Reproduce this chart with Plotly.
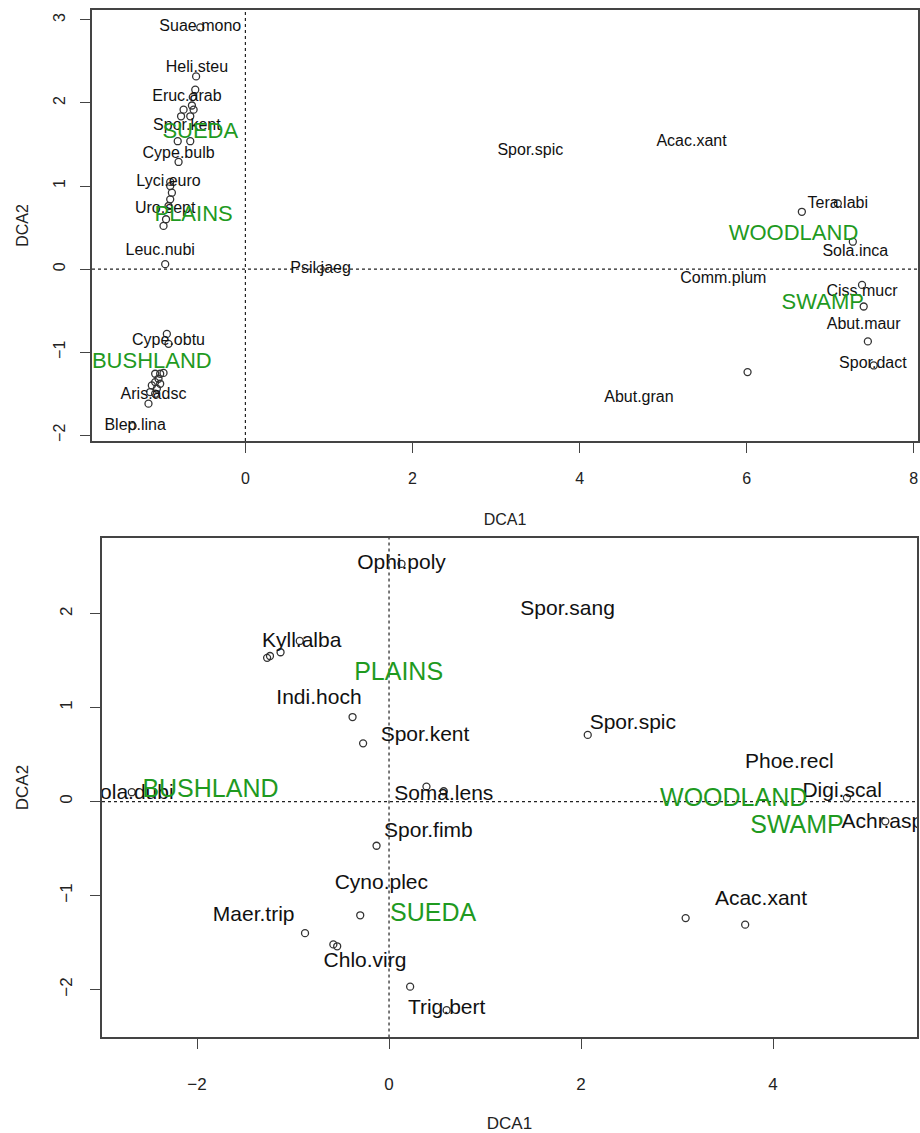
import plotly.graph_objects as go

# ---------------- top panel data ----------------
top_pt_x = [-0.54, -0.59, -0.60, -0.63, -0.64, -0.74, -0.62, -0.77, -0.66, -0.81, -0.66, -0.80,
            -0.90, -0.90, -0.88, -0.90, -0.92, -0.95, -0.98, -0.96, -0.94, -0.92,
            -1.08, -1.02, -0.98, -1.04, -1.08, -1.02, -1.12, -1.06, -1.14, -1.08, -1.16, -1.35,
            0.90, 6.66, 7.09, 7.27, 7.38, 7.40, 7.45, 7.52, 6.01]
top_pt_y = [2.91, 2.32, 2.16, 2.07, 1.97, 1.92, 1.92, 1.84, 1.84, 1.54, 1.54, 1.29,
            1.05, 1.00, 0.92, 0.84, 0.76, 0.60, 0.52, 0.06, -0.78, -0.90,
            -1.26, -1.26, -1.25, -1.32, -1.36, -1.38, -1.40, -1.44, -1.48, -1.50, -1.62, -1.89,
            0.00, 0.69, 0.79, 0.33, -0.19, -0.45, -0.87, -1.16, -1.24]

top_lab = ["Suae.mono", "Heli.steu", "Eruc.arab", "Spor.kent", "Cype.bulb", "Lyci.euro",
           "Uro.sept", "Leuc.nubi", "Cype.obtu", "Aris.adsc", "Blep.lina", "Psil.jaeg",
           "Spor.spic", "Acac.xant", "Tera.labi", "Sola.inca", "Comm.plum", "Ciss.mucr",
           "Abut.maur", "Spor.dact", "Abut.gran"]
top_lab_x = [-0.54, -0.58, -0.70, -0.70, -0.80, -0.92, -0.96, -1.02, -0.92, -1.10, -1.32, 0.90,
             3.41, 5.34, 7.09, 7.30, 5.72, 7.38, 7.40, 7.51, 4.71]
top_lab_y = [2.91, 2.42, 2.07, 1.72, 1.39, 1.05, 0.72, 0.22, -0.87, -1.51, -1.89, 0.00,
             1.42, 1.53, 0.78, 0.21, -0.12, -0.28, -0.67, -1.14, -1.55]

top_grp = ["SUEDA", "PLAINS", "BUSHLAND", "WOODLAND", "SWAMP"]
top_grp_x = [-0.54, -0.62, -1.12, 6.56, 6.91]
top_grp_y = [1.64, 0.64, -1.13, 0.42, -0.42]

top_xticks = [0, 2, 4, 6, 8]
top_yticks = [-2, -1, 0, 1, 2, 3]

# ---------------- bottom panel data ----------------
bot_pt_x = [0.13, -0.93, -1.13, -1.24, -1.27, -0.38, -0.27, -2.68, 0.39, 0.57, -0.13,
            -0.875, -0.30, -0.58, -0.54, 0.22, 0.60, 2.07, 5.17, 3.09, 3.71, 4.77]
bot_pt_y = [2.53, 1.71, 1.59, 1.55, 1.53, 0.90, 0.62, 0.10, 0.16, 0.11, -0.47,
            -1.40, -1.21, -1.52, -1.54, -1.97, -2.22, 0.71, -0.21, -1.24, -1.31, 0.04]

bot_lab = ["Ophi.poly", "Spor.sang", "Kyll.alba", "Indi.hoch", "Spor.kent", "Spor.spic",
           "Phoe.recl", "Sola.dubi", "Soma.lens", "Digi.scal", "Achr.aspe", "Spor.fimb",
           "Cyno.plec", "Maer.trip", "Acac.xant", "Chlo.virg", "Trig.bert"]
bot_lab_x = [0.13, 1.86, -0.91, -0.73, 0.375, 2.54, 4.17, -2.70, 0.57, 4.72, 5.20, 0.41,
             -0.08, -1.41, 3.875, -0.25, 0.60]
bot_lab_y = [2.53, 2.04, 1.70, 1.10, 0.70, 0.83, 0.41, 0.08, 0.07, 0.11, -0.23, -0.32,
             -0.87, -1.22, -1.04, -1.70, -2.21]

bot_grp = ["PLAINS", "BUSHLAND", "WOODLAND", "SWAMP", "SUEDA"]
bot_grp_x = [0.10, -1.86, 3.59, 4.25, 0.46]
bot_grp_y = [1.36, 0.12, 0.02, -0.27, -1.20]

bot_xticks = [-2, 0, 2, 4]
bot_yticks = [-2, -1, 0, 1, 2]

# ---------------- styling ----------------
FONT = "Liberation Sans, Arial, sans-serif"
GREEN = "#1f9a1f"
INK = "#111111"
PT = "#333333"

fig = go.Figure()

def add_panel(xa, ya, px, py, lab, lx, ly, grp, gx, gy, lab_size, grp_size):
    fig.add_trace(go.Scatter(x=px, y=py, mode="markers", xaxis=xa, yaxis=ya,
                             marker=dict(symbol="circle-open", size=7, color=PT,
                                         line=dict(width=1.3, color=PT)),
                             cliponaxis=True, hoverinfo="skip", showlegend=False))
    fig.add_trace(go.Scatter(x=lx, y=ly, text=lab, mode="text", xaxis=xa, yaxis=ya,
                             textposition="middle center",
                             textfont=dict(family=FONT, size=lab_size, color=INK),
                             cliponaxis=True, hoverinfo="skip", showlegend=False))
    fig.add_trace(go.Scatter(x=gx, y=gy, text=grp, mode="text", xaxis=xa, yaxis=ya,
                             textposition="middle center",
                             textfont=dict(family=FONT, size=grp_size, color=GREEN),
                             cliponaxis=True, hoverinfo="skip", showlegend=False))

add_panel("x", "y", top_pt_x, top_pt_y, top_lab, top_lab_x, top_lab_y,
          top_grp, top_grp_x, top_grp_y, 16, 22)
add_panel("x2", "y2", bot_pt_x, bot_pt_y, bot_lab, bot_lab_x, bot_lab_y,
          bot_grp, bot_grp_x, bot_grp_y, 21, 25)

W, H = 920, 1133

def ax_common(size):
    return dict(showgrid=False, zeroline=False, showline=True, mirror=True,
                linecolor="#444444", linewidth=1.5, ticks="outside", ticklen=10,
                tickwidth=1.3, tickcolor="#444444",
                tickfont=dict(family=FONT, size=size, color="#222222"),
                title_font=dict(family=FONT, size=size, color="#222222"))

fig.update_layout(
    width=W, height=H, margin=dict(l=0, r=0, t=0, b=0),
    paper_bgcolor="white", plot_bgcolor="white", showlegend=False,
    xaxis=dict(domain=[92 / W, 918 / W], anchor="y", range=[-1.836, 8.05],
               tickvals=top_xticks, title_text="DCA1", title_standoff=28,
               ticklabelstandoff=12, **ax_common(16)),
    yaxis=dict(domain=[1 - 443 / H, 1 - 10 / H], anchor="x", range=[-2.07, 3.12],
               tickvals=top_yticks, tickangle=-90, title_text="DCA2", title_standoff=18,
               ticklabelstandoff=9, **ax_common(16)),
    xaxis2=dict(domain=[102 / W, 917 / W], anchor="y2", range=[-2.99, 5.50],
                tickvals=bot_xticks, title_text="DCA1", title_standoff=28,
                ticklabelstandoff=20, **ax_common(17)),
    yaxis2=dict(domain=[1 - 1042 / H, 1 - 540 / H], anchor="x2", range=[-2.51, 2.81],
                tickvals=bot_yticks, tickangle=-90, title_text="DCA2", title_standoff=24,
                ticklabelstandoff=11, **ax_common(17)),
)

dotted = dict(color="#222222", width=1.2, dash="dot")
for xa, ya in (("x", "y"), ("x2", "y2")):
    fig.add_shape(type="line", x0=0, x1=0, y0=0, y1=1, xref=xa, yref=ya + " domain",
                  line=dotted, layer="below")
    fig.add_shape(type="line", x0=0, x1=1, y0=0, y1=0, xref=xa + " domain", yref=ya,
                  line=dotted, layer="below")

fig.write_html("out.html", config={"displayModeBar": False},
               post_script="document.body.style.margin='0';document.body.style.overflow='hidden';")
